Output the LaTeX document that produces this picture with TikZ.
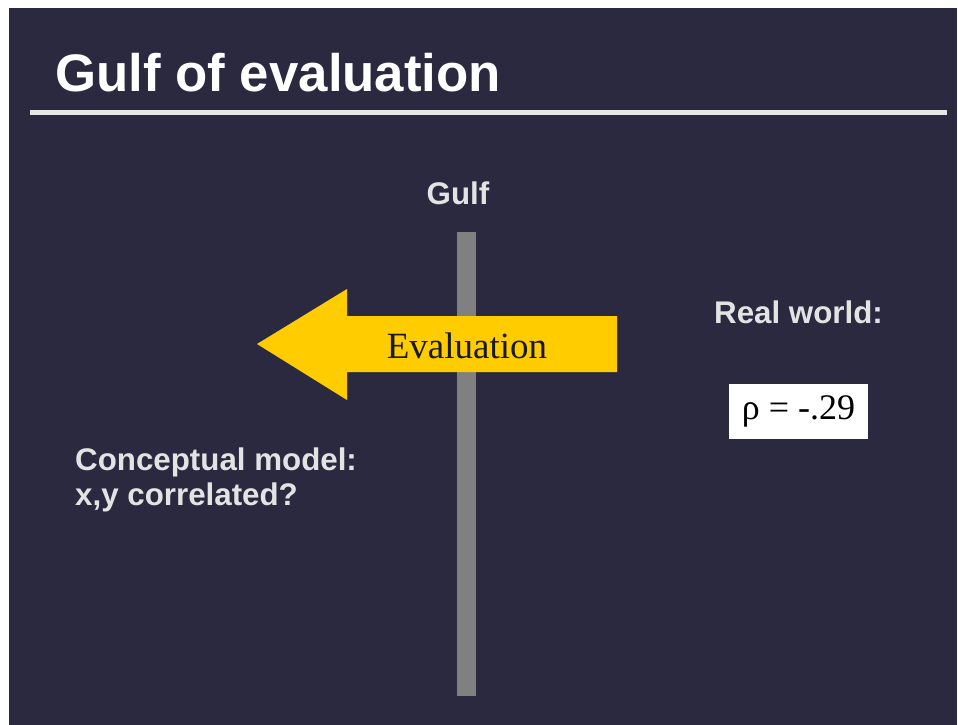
\documentclass[tikz,border=0pt]{standalone}
\usepackage{fontspec}
\setmainfont{Liberation Serif}
\setsansfont{Liberation Sans}
\definecolor{slidebg}{HTML}{2B2940}
\definecolor{rulegrey}{HTML}{E6E6E6}
\definecolor{labelgrey}{HTML}{E3E3E3}
\definecolor{bargrey}{HTML}{808080}
\definecolor{arrowgold}{HTML}{FFCC00}
\begin{document}
\begin{tikzpicture}[x=1pt,y=-1pt,
  heading/.style={anchor=base west,inner sep=0pt,text=white,
    font=\sffamily\bfseries\fontsize{52.8}{60}\selectfont},
  label/.style={inner sep=0pt,text=labelgrey,
    font=\sffamily\bfseries\fontsize{31.3}{35}\selectfont},
  serifbig/.style={inner sep=0pt,text=black!90,
    font=\rmfamily\fontsize{37}{42}\selectfont}]
  \useasboundingbox (0,0) rectangle (958,725);
  % slide background
  \fill[white] (0,0) rectangle (958,725);
  \fill[slidebg] (9,8) rectangle (957,725);
  % title and rule
  \node[heading] (title) at (55,92) {Gulf of evaluation};
  \fill[rulegrey] (30,110) rectangle (947,114.5);
  % the gulf
  \node[label,anchor=base] (gulflabel) at (458,204) {Gulf};
  \fill[bargrey] (457,232) rectangle (476,696);
  % evaluation arrow pointing left
  \fill[arrowgold] (617,316) -- (347,316) -- (347,289) -- (257,344)
    -- (347,400) -- (347,372) -- (617,372) -- cycle;
  \node[serifbig,anchor=base] (evaluation) at (467,358) {Evaluation};
  % real world side
  \node[label,anchor=base west] (realworld) at (714,323) {Real world:};
  \node[fill=white,text=black,inner sep=0pt,minimum width=139pt,minimum height=55pt,
    font=\rmfamily\fontsize{36}{40}\selectfont] (rho) at (798.5,411.5) {ρ = -.29};
  % conceptual side
  \node[label,anchor=base west,align=left] (concept) at (75,505)
    {Conceptual model:\\x,y correlated?};
\end{tikzpicture}
\end{document}
